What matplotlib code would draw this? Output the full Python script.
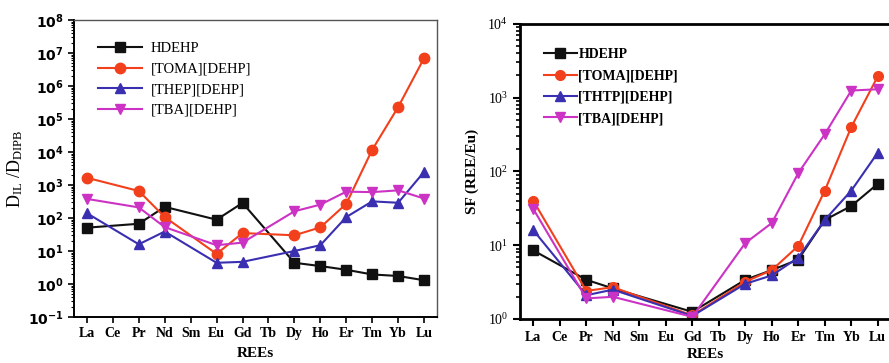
import numpy as np
import matplotlib
matplotlib.use("Agg")
import matplotlib.pyplot as plt
from matplotlib.ticker import LogLocator, NullFormatter

plt.rcParams['font.family'] = ['Liberation Serif', 'DejaVu Serif']
plt.rcParams['mathtext.fontset'] = 'custom'
plt.rcParams['mathtext.rm'] = 'Liberation Serif'
plt.rcParams['mathtext.it'] = 'Liberation Serif'
plt.rcParams['mathtext.bf'] = 'Liberation Serif:bold'

ree_labels = ['La', 'Ce', 'Pr', 'Nd', 'Sm', 'Eu', 'Gd', 'Tb', 'Dy', 'Ho', 'Er', 'Tm', 'Yb', 'Lu']

# left panel: distribution ratio IL / DIPB
left_elems = ['La', 'Pr', 'Nd', 'Eu', 'Gd', 'Dy', 'Ho', 'Er', 'Tm', 'Yb', 'Lu']
d_hdehp = [51, 67, 218, 89, 287, 4.4, 3.5, 2.7, 1.95, 1.75, 1.3]
d_toma = [1660, 660, 107, 8.2, 35, 30, 52, 270, 11700, 2.3e5, 7e6]
d_thep = [140, 16, 39, 4.4, 4.7, 10, 15, 107, 320, 290, 2500]
d_tba = [380, 210, 53, 15, 18, 160, 255, 630, 610, 690, 390]

# right panel: separation factor relative to Eu
right_elems = ['La', 'Pr', 'Nd', 'Gd', 'Dy', 'Ho', 'Er', 'Tm', 'Yb', 'Lu']
sf_hdehp = [8.5, 3.4, 2.6, 1.25, 3.4, 4.6, 6.4, 22, 34, 68]
sf_toma = [40, 2.4, 2.7, 1.12, 3.2, 4.6, 9.8, 55, 400, 1950]
sf_thtp = [16, 2.1, 2.5, 1.1, 3.0, 3.9, 6.8, 22, 55, 180]
sf_tba = [31, 1.9, 2.0, 1.07, 10.7, 20, 95, 320, 1250, 1300]

colors = ['#111111', '#f2401c', '#3a2fb0', '#cc33c4']
markers = ['s', 'o', '^', 'v']


def pos(elems):
    return [ree_labels.index(e) + 1 for e in elems]


fig = plt.figure(figsize=(8.89, 3.63), dpi=100)

# ---- left panel
ax1 = fig.add_axes([0.0832, 0.1267, 0.4084, 0.818])
xl = pos(left_elems)
series_l = [(d_hdehp, 'HDEHP'), (d_toma, '[TOMA][DEHP]'),
            (d_thep, '[THEP][DEHP]'), (d_tba, '[TBA][DEHP]')]
for (vals, name), c, m in zip(series_l, colors, markers):
    ax1.plot(xl, vals, color=c, marker=m, ms=7.5, lw=1.5, label=name)
ax1.set_yscale('log')
ax1.set_ylim(0.1, 1e8)
ax1.set_xlim(0.5, 14.5)
ax1.set_xticks(range(1, 15))
ax1.set_xticklabels(ree_labels, fontweight='bold', fontsize=10)
ax1.yaxis.set_major_locator(LogLocator(base=10, numticks=12))
ax1.yaxis.set_minor_locator(LogLocator(base=10, subs=np.arange(2, 10), numticks=12))
ax1.yaxis.set_minor_formatter(NullFormatter())
for lab in ax1.get_yticklabels():
    lab.set_family('DejaVu Sans')
    lab.set_fontweight('bold')
    lab.set_fontsize(10)
ax1.tick_params(axis='both', which='major', direction='out', length=4, width=1.2)
ax1.tick_params(axis='y', which='minor', direction='out', length=2, width=0.8)
ax1.tick_params(axis='x', pad=3)
for s in ['left', 'bottom']:
    ax1.spines[s].set_linewidth(1.4)
for s in ['top', 'right']:
    ax1.spines[s].set_linewidth(1.0)
    ax1.spines[s].set_color('#555555')
ax1.set_xlabel('REEs', fontsize=11, fontweight='bold', labelpad=5)
ax1.set_ylabel(r'$\mathrm{D_{IL}\ /D_{DIPB}}$', fontsize=13, labelpad=2)
ax1.legend(loc='upper left', bbox_to_anchor=(0.03, 0.97), frameon=False,
           fontsize=10.5, handlelength=3, handletextpad=0.6, labelspacing=0.5)

# ---- right panel
ax2 = fig.add_axes([0.585, 0.1212, 0.4173, 0.813])
xr = pos(right_elems)
series_r = [(sf_hdehp, 'HDEHP'), (sf_toma, '[TOMA][DEHP]'),
            (sf_thtp, '[THTP][DEHP]'), (sf_tba, '[TBA][DEHP]')]
for (vals, name), c, m in zip(series_r, colors, markers):
    ax2.plot(xr, vals, color=c, marker=m, ms=7, lw=1.5, label=name)
ax2.set_yscale('log')
ax2.set_ylim(1, 1e4)
ax2.set_xlim(0.5, 14.5)
ax2.set_xticks(range(1, 15))
ax2.set_xticklabels(ree_labels, fontweight='bold', fontsize=10)
ax2.yaxis.set_major_locator(LogLocator(base=10, numticks=8))
ax2.yaxis.set_minor_locator(LogLocator(base=10, subs=np.arange(2, 10), numticks=8))
ax2.yaxis.set_minor_formatter(NullFormatter())
for lab in ax2.get_yticklabels():
    lab.set_fontsize(10)
ax2.tick_params(axis='both', which='major', direction='out', length=5, width=1.5)
ax2.tick_params(axis='y', which='minor', direction='out', length=3, width=1.2)
for s in ax2.spines.values():
    s.set_linewidth(2.0)
ax2.set_xlabel('REEs', fontsize=11, fontweight='bold', labelpad=3)
ax2.set_ylabel('SF (REE/Eu)', fontsize=11, fontweight='bold', labelpad=6)
leg2 = ax2.legend(loc='upper left', bbox_to_anchor=(0.03, 0.96), frameon=False,
                  fontsize=10, handlelength=2.4, handletextpad=0.1, labelspacing=0.6)
for t in leg2.get_texts():
    t.set_fontweight('bold')

fig.savefig('out.png', dpi=100)
